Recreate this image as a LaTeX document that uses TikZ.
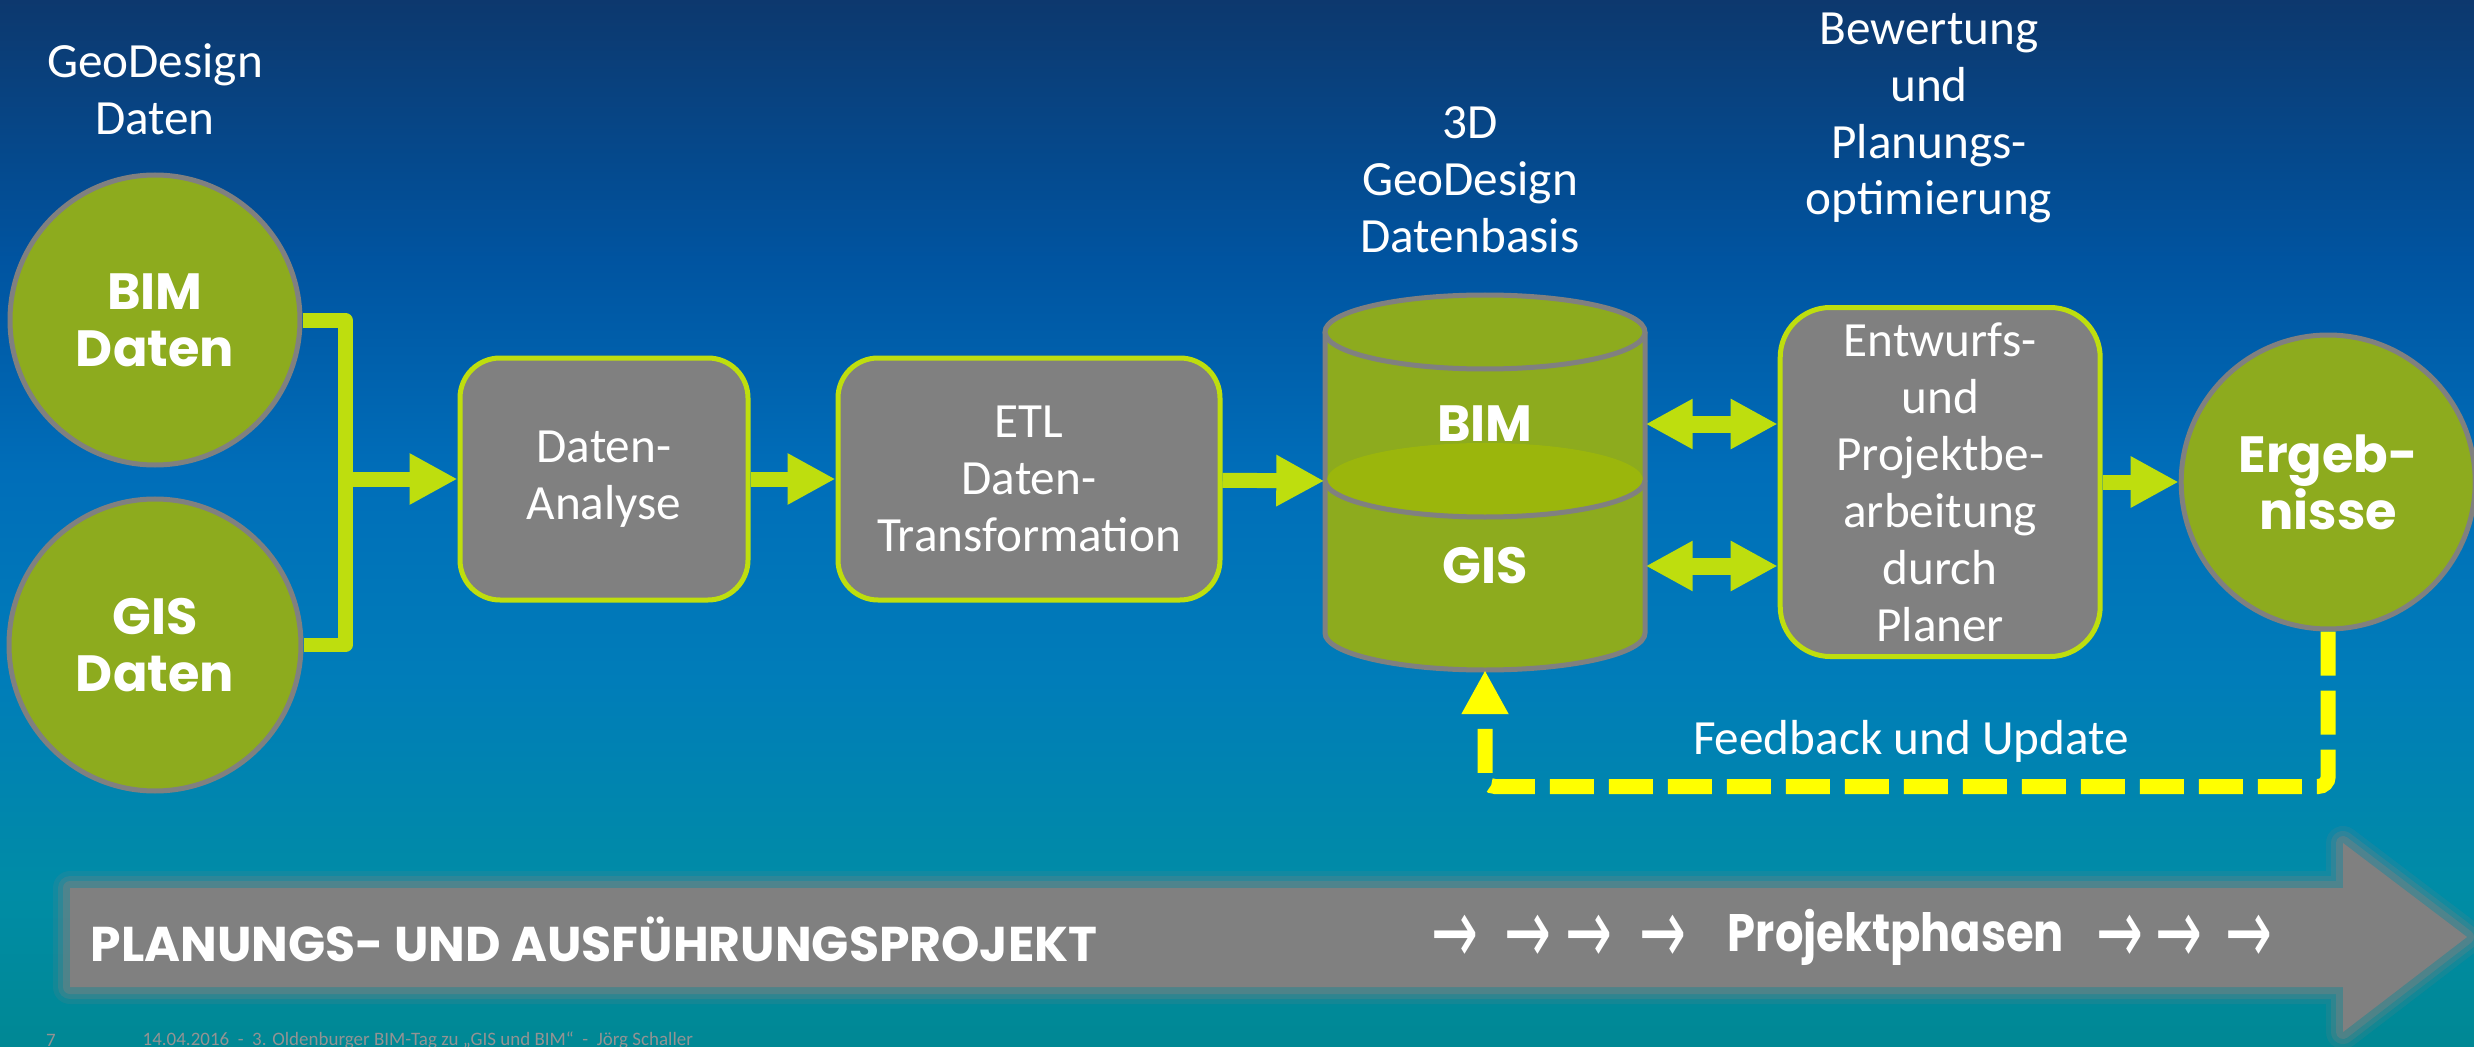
\documentclass[tikz,border=0pt]{standalone}
\usepackage{fontspec}
\setmainfont{Carlito}
\newfontfamily\schwerschrift{Poppins}
\newfontfamily\pfeilschrift{DejaVu Sans}
\usetikzlibrary{positioning,arrows.meta}
\definecolor{oliv}{RGB}{141,171,30}
\definecolor{olivhell}{RGB}{155,182,12}
\definecolor{limette}{RGB}{190,222,14}
\definecolor{grau}{RGB}{128,128,128}
\definecolor{gelb}{RGB}{255,255,0}
\pgfdeclareverticalshading{hintergrund}{100bp}{%
  rgb(0bp)=(0,0.533,0.58);
  rgb(25bp)=(0,0.533,0.58);
  rgb(32.5bp)=(0,0.55,0.65);
  rgb(42.5bp)=(0,0.49,0.725);
  rgb(52.5bp)=(0,0.43,0.725);
  rgb(62.5bp)=(0,0.33,0.63);
  rgb(75bp)=(0.05,0.22,0.43);
  rgb(100bp)=(0.05,0.22,0.43)}

\begin{document}
\begin{tikzpicture}[x=0.1mm, y=-0.1mm,
kreis/.style={circle, draw=grau, line width=0.5mm, fill=oliv, minimum size=#1, inner sep=0pt, align=center, text=white, font=\schwerschrift\bfseries\fontsize{14.5}{16.2}\selectfont},
kasten/.style={rectangle, rounded corners=4mm, draw=limette, line width=0.5mm, fill=grau, inner sep=0.5mm, align=center, text=white, font=\fontsize{14}{16.2}\selectfont},
titel/.style={align=center, text=white, inner sep=0pt, font=\fontsize{14}{16.2}\selectfont},
zylindertext/.style={text=white, inner sep=0pt, font=\schwerschrift\bfseries\fontsize{14.5}{16.2}\selectfont},
pfeil/.style={draw=limette, line width=1.5mm, -{Triangle[length=4.8mm, width=4.8mm]}},
doppelpfeil/.style={draw=limette, line width=1.7mm, {Triangle[length=4.7mm, width=4.7mm]}-{Triangle[length=4.7mm, width=4.7mm]}},
verbinder/.style={draw=limette, line width=1.5mm, line join=round},
rueckfuehrung/.style={draw=gelb, line width=1.5mm, dash pattern=on 4.4mm off 1.5mm, rounded corners=1mm, -{Triangle[length=4.4mm, width=4.4mm]}},
balkentext/.style={text=white, inner sep=0pt, font=\schwerschrift\bfseries\fontsize{13.9}{16}\selectfont},
pfeilzeichen/.style={text=white, inner sep=0pt, font=\pfeilschrift\fontsize{14.5}{16}\selectfont},
fusszeile/.style={text=grau!85!white, inner sep=0pt, font=\fontsize{5.4}{6}\selectfont}]

\useasboundingbox (0,0) rectangle (2474,1047);
\shade [shading=hintergrund] (0,0) rectangle (2474,1047);

% EINGANGSDATEN

\node [titel] (geodesign-titel) at (155,89) {GeoDesign\\Daten};

\node [kreis=29mm] (bim-daten) at (155,320) {BIM\\Daten};

\node [kreis=29.2mm, below=2.9mm of bim-daten] (gis-daten) {GIS\\Daten};

\coordinate (zusammenfluss) at (345,479);

% VERARBEITUNG

\node [kasten, minimum width=28.8mm, minimum height=24.2mm] (daten-analyse) at (604,479) {Daten-\\Analyse};

\node [kasten, minimum width=38.2mm, minimum height=24.2mm, right=8.5mm of daten-analyse] (etl) {ETL\\Daten-\\Transformation};

% DATENBASIS

\node [titel] (datenbasis-titel) at (1470,180) {3D\\GeoDesign\\Datenbasis};

\node [minimum width=32mm, minimum height=37.5mm, inner sep=0pt] (datenbasis) at (1485,482) {};

\fill [oliv] (1325,332) -- (1325,633) arc[start angle=180, end angle=0, x radius=160, y radius=37] -- (1645,332) -- cycle;
\draw [grau, line width=0.5mm] (1325,332) -- (1325,633) arc[start angle=180, end angle=0, x radius=160, y radius=37] -- (1645,332);
\fill [olivhell] (1485,480) ellipse[x radius=158, y radius=37];
\draw [grau, line width=0.5mm] (1325,480) arc[start angle=180, end angle=0, x radius=160, y radius=37];
\draw [grau, line width=0.5mm, fill=oliv] (1485,332) ellipse[x radius=160, y radius=37];

\node [zylindertext] (bim-text) at (1485,424) {BIM};
\node [zylindertext] (gis-text) at (1485,566) {GIS};

% PLANUNG

\node [titel] (bewertung-titel) at (1929,118) {Bewertung\\und\\Planungs-\\optimierung};

\node [kasten, rounded corners=5mm, minimum width=32mm, minimum height=34.9mm, right=13.2mm of datenbasis] (entwurf) {Entwurfs-\\und\\Projektbe-\\arbeitung\\durch\\Planer};

\node [kreis=29.4mm, right=7.6mm of entwurf] (ergebnisse) {Ergeb-\\nisse};

\node [titel] (feedback) at (1911,741) {Feedback und Update};

% VERBINDUNGEN

\draw [verbinder] (bim-daten.east) -| (zusammenfluss) |- (gis-daten.east);
\draw [pfeil] (zusammenfluss) -- (daten-analyse.west);
\draw [pfeil] (daten-analyse) -- (etl);
\draw [pfeil] (etl) -- (datenbasis);
\draw [doppelpfeil] (datenbasis.east |- bim-text) -- (entwurf.west |- bim-text);
\draw [doppelpfeil] (datenbasis.east |- gis-text) -- (entwurf.west |- gis-text);
\draw [pfeil] (entwurf) -- (ergebnisse);
\draw [rueckfuehrung] (ergebnisse.south) -- ++(0,155) -| (datenbasis.south);

% PROJEKTPHASEN

\foreach \breite/\deckkraft in {3.4mm/0.15, 2.4mm/0.25, 1.4mm/0.4}
  \draw [grau, line width=\breite, opacity=\deckkraft, line join=round] (70,888) -- (2343,888) -- (2343,843) -- (2467,937) -- (2343,1032) -- (2343,987) -- (70,987) -- cycle;
\fill [grau] (70,888) -- (2343,888) -- (2343,843) -- (2467,937) -- (2343,1032) -- (2343,987) -- (70,987) -- cycle;

\node [balkentext, anchor=west] (planungsprojekt) at (90,939) {PLANUNGS- UND AUSFÜHRUNGSPROJEKT};

\node [balkentext, font=\schwerschrift\bfseries\fontsize{15}{17}\selectfont] (projektphasen) at (1896,937) {\scalebox{0.85}[1]{Projektphasen}};

\foreach \x [count=\i] in {1455,1528,1589,1663,2120,2179,2249}
  \node [pfeilzeichen] (pfeilzeichen-\i) at (\x,939) {\scalebox{1.1}[1.8]{→}};

% FUSSZEILE

\node [fusszeile] (seitenzahl) at (51,1040) {7};
\node [fusszeile, anchor=west] (fusszeile) at (142,1040) {14.04.2016 \ - \ 3. Oldenburger BIM-Tag zu „GIS und BIM“ \ - \ Jörg Schaller};

\end{tikzpicture}
\end{document}
